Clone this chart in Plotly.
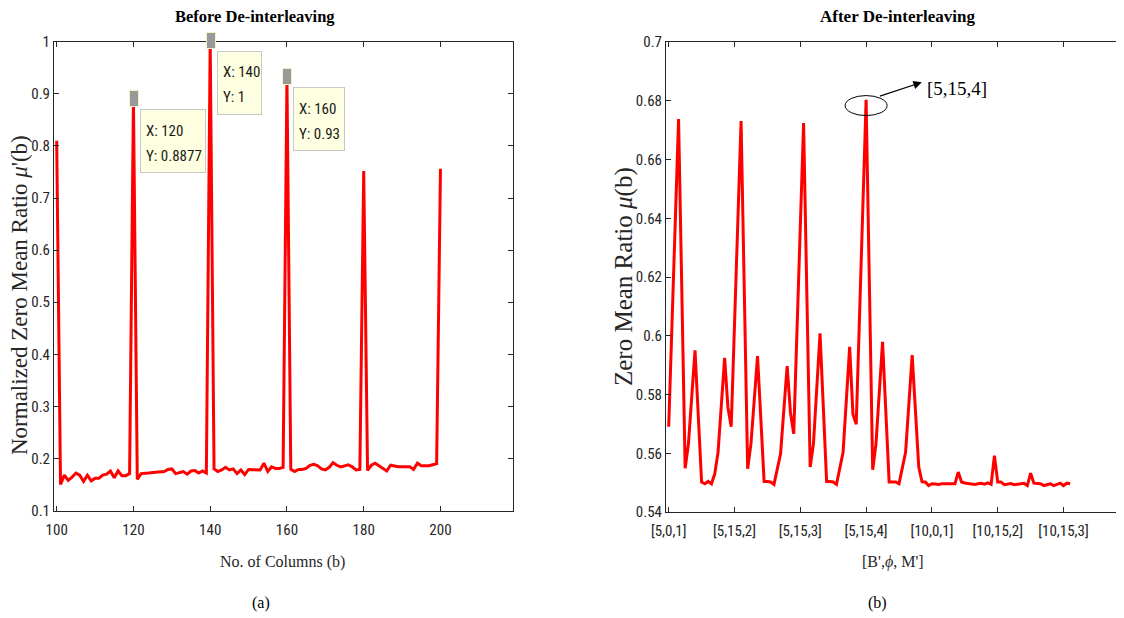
import numpy as np
import plotly.graph_objects as go

# ---------------- data ----------------
left_x = list(range(100, 201))
left_y = [
    0.81,
    0.150, 0.168, 0.158, 0.164, 0.172, 0.168, 0.156, 0.168, 0.157, 0.162,
    0.162, 0.168, 0.170, 0.176, 0.163, 0.176, 0.167, 0.167, 0.171,
    0.8877,
    0.160, 0.171, 0.171, 0.172, 0.173, 0.174, 0.175, 0.175, 0.179, 0.180,
    0.171, 0.173, 0.175, 0.170, 0.176, 0.177, 0.172, 0.176, 0.172,
    1.0,
    0.180, 0.175, 0.178, 0.183, 0.178, 0.180, 0.171, 0.178, 0.169, 0.179,
    0.179, 0.179, 0.178, 0.191, 0.175, 0.184, 0.181, 0.181, 0.183,
    0.93,
    0.179, 0.175, 0.179, 0.179, 0.181, 0.187, 0.189, 0.186, 0.180, 0.178,
    0.183, 0.192, 0.187, 0.184, 0.186, 0.188, 0.184, 0.178, 0.179,
    0.752,
    0.177, 0.187, 0.191, 0.186, 0.181, 0.176, 0.187, 0.185, 0.184, 0.184,
    0.184, 0.184, 0.179, 0.191, 0.186, 0.186, 0.186, 0.188, 0.190,
    0.756,
]
left_xticks = [100, 120, 140, 160, 180, 200]
left_yticks = [0.1, 0.2, 0.3, 0.4, 0.5, 0.6, 0.7, 0.8, 0.9, 1.0]
left_yticktext = ["0.1", "0.2", "0.3", "0.4", "0.5", "0.6", "0.7", "0.8", "0.9", "1"]

tip_x = [120, 140, 160]
tip_y_text = ["0.8877", "1", "0.93"]

right_y = [
    0.5690, 0.6040, 0.6390, 0.6738, 0.6145, 0.5549, 0.5632, 0.5790, 0.5950, 0.5726,
    0.5502, 0.5496, 0.5504, 0.5496, 0.5530, 0.5603, 0.5764, 0.5925, 0.5756,
    0.5690, 0.6037, 0.6384, 0.6731, 0.6139, 0.5547, 0.5632, 0.5781, 0.5931, 0.5718,
    0.5504, 0.5504, 0.5502, 0.5494, 0.5546, 0.5598, 0.5748, 0.5897, 0.5739,
    0.5666, 0.6019, 0.6371, 0.6724, 0.6138, 0.5553, 0.5632, 0.5820, 0.6008, 0.5756,
    0.5504, 0.5504, 0.5502, 0.5494, 0.5548, 0.5603, 0.5782, 0.5962, 0.5733,
    0.5699, 0.6067, 0.6435, 0.6803, 0.6173, 0.5544, 0.5632, 0.5805, 0.5979, 0.5740,
    0.5502, 0.5502, 0.5502, 0.5496, 0.5550, 0.5603, 0.5768, 0.5934, 0.5744, 0.5553,
    0.5503, 0.5502, 0.5490, 0.5496, 0.5495, 0.5494, 0.5496, 0.5495, 0.5496, 0.5496,
    0.5496, 0.5536, 0.5502, 0.5499, 0.5497, 0.5494, 0.5494, 0.5496, 0.5498, 0.5495,
    0.5499, 0.5494, 0.5592, 0.5502, 0.5502, 0.5493, 0.5496, 0.5497, 0.5493, 0.5494,
    0.5496, 0.5498, 0.5490, 0.5532, 0.5498, 0.5496, 0.5496, 0.5490, 0.5494, 0.5496,
    0.5490, 0.5494, 0.5498, 0.5490, 0.5498, 0.5496,
]
right_x = list(range(len(right_y)))
right_xticks = [0, 20, 40, 60, 80, 100, 120]
right_xticktext = ["[5,0,1]", "[5,15,2]", "[5,15,3]", "[5,15,4]",
                   "[10,0,1]", "[10,15,2]", "[10,15,3]"]
right_yticks = [0.54, 0.56, 0.58, 0.60, 0.62, 0.64, 0.66, 0.68, 0.70]
right_yticktext = ["0.54", "0.56", "0.58", "0.6", "0.62", "0.64", "0.66", "0.68", "0.7"]

# ---------------- style ----------------
W, H = 1124, 618
OFF = 8  # page offset of the figure div
SANS = "Liberation Sans Narrow, Arial Narrow, Roboto Condensed, Roboto, Liberation Sans, sans-serif"
SERIF = "Liberation Serif, Times New Roman, serif"
AX = "#262626"
RED = "#ff0000"

def px(xp):
    return (xp - OFF) / W

def py(yp):
    return 1 - (yp - OFF) / H

fig = go.Figure()
fig.add_trace(go.Scatter(x=left_x, y=left_y, mode="lines",
                         line=dict(color=RED, width=3), xaxis="x", yaxis="y",
                         showlegend=False, hoverinfo="skip"))
fig.add_trace(go.Scatter(x=right_x, y=right_y, mode="lines",
                         line=dict(color=RED, width=3), xaxis="x2", yaxis="y2",
                         showlegend=False, hoverinfo="skip"))

axis_common = dict(showline=True, linecolor=AX, linewidth=1, mirror="ticks",
                   ticks="inside", ticklen=5, tickwidth=1, tickcolor=AX,
                   showgrid=False, zeroline=False, automargin=False,
                   tickfont=dict(family=SANS, size=15, color=AX))

fig.update_layout(
    width=W, height=H,
    margin=dict(l=0, r=0, t=0, b=0, pad=0, autoexpand=False),
    paper_bgcolor="white", plot_bgcolor="white",
    xaxis=dict(domain=[px(54), px(513)], range=[99.3, 218.9], ticklabelstandoff=5,
               tickvals=left_xticks, anchor="y", **axis_common),
    yaxis=dict(domain=[py(510.6), py(41.7)], range=[0.1, 1.0],
               tickvals=left_yticks, ticktext=left_yticktext, anchor="x", **axis_common),
    xaxis2=dict(domain=[px(666), px(1128)], range=[-0.82, 139.6], ticklabelstandoff=5,
                tickvals=right_xticks, ticktext=right_xticktext, anchor="y2", **axis_common),
    yaxis2=dict(domain=[py(512), py(42)], range=[0.54, 0.70],
                tickvals=right_yticks, ticktext=right_yticktext, anchor="x2", **axis_common),
)

def paper_text(xp, yp, text, size, family=SERIF, color="black", angle=0):
    return dict(x=px(xp), y=py(yp), xref="paper", yref="paper", showarrow=False,
                xanchor="center", yanchor="middle", text=text, textangle=angle,
                font=dict(family=family, size=size, color=color))

ann = []
ann.append(paper_text(255, 17, "<b>Before De-interleaving</b>", 16.5))
ann.append(paper_text(897, 17, "<b>After De-interleaving</b>", 17))
ann.append(paper_text(282, 562, "No. of Columns (b)", 16, color=AX))
ann.append(paper_text(893, 562, "[B',<i>ϕ</i>, M']", 16, color=AX))
ann.append(paper_text(19, 295, "Normalized Zero Mean Ratio <i>μ</i>'(b)", 23, color=AX, angle=-90))
ann.append(paper_text(624, 277, "Zero Mean Ratio <i>μ</i>(b)", 25, color=AX, angle=-90))
ann.append(paper_text(261, 603, "(a)", 16))
ann.append(paper_text(877, 603, "(b)", 16))

# data tips: marker, box and two text lines
for tx, tyt in zip(tip_x, tip_y_text):
    ty = left_y[left_x.index(tx)]
    lines = [f"X: {tx}", f"Y: {tyt}"]
    box_w = 7 * max(len(s) for s in lines) + 1
    ann.append(dict(x=tx, y=ty, xref="x", yref="y", showarrow=False, text=" ",
                    xanchor="left", yanchor="top", xshift=6.5, yshift=-9,
                    width=box_w, height=62, borderpad=0, bgcolor="#ffffe1",
                    bordercolor="#c8c8c8", borderwidth=1, font=dict(size=8)))
    for k, s in enumerate(lines):
        ann.append(dict(x=tx, y=ty, xref="x", yref="y", showarrow=False, text=s,
                        xanchor="left", yanchor="middle", xshift=10.5,
                        yshift=-30.5 - 25 * k,
                        font=dict(family=SANS, size=15, color="#1a1a1a")))
    ann.append(dict(x=tx, y=ty, xref="x", yref="y", showarrow=False, text=" ",
                    xanchor="center", yanchor="middle", xshift=0.5, yshift=1.5,
                    width=8, height=15, borderpad=0, bgcolor="#999999",
                    bordercolor="#f2f2c8", borderwidth=1,
                    font=dict(family=SANS, size=8)))

# peak annotation on the right
peak_i = int(np.argmax(right_y))
peak_v = right_y[peak_i]
ann.append(dict(x=peak_i, y=peak_v, xref="x2", yref="y2", text="", showarrow=True,
                xshift=55.7, yshift=17.6, ax=-43.4, ay=14.3,
                arrowhead=2, arrowsize=1.4, arrowwidth=1.2, arrowcolor="black"))
ann.append(dict(x=peak_i, y=peak_v, xref="x2", yref="y2", showarrow=False,
                xanchor="center", yanchor="middle",
                text=right_xticktext[peak_i // 20], xshift=91, yshift=11.3,
                font=dict(family=SERIF, size=19, color="black")))
fig.update_layout(annotations=ann)

fig.add_shape(type="circle", xref="x2", yref="y2", xsizemode="pixel", ysizemode="pixel",
              xanchor=peak_i, yanchor=peak_v, x0=-21, x1=21, y0=-15.7, y1=4.3,
              line=dict(color="black", width=1))

fig.write_html("out.html")
